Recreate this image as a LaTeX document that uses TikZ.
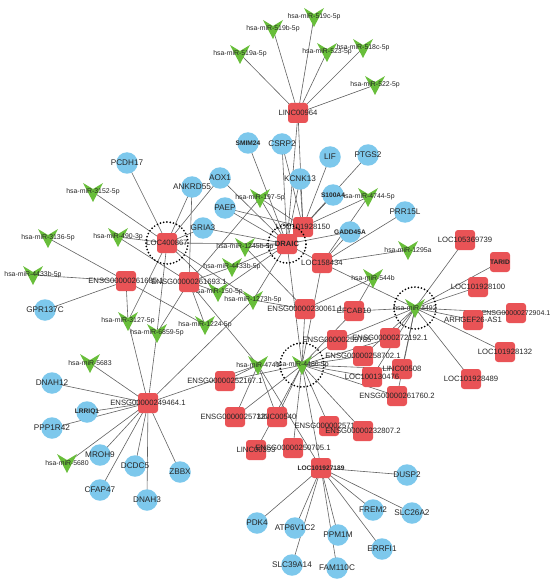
\documentclass[tikz,border=0pt]{standalone}
\usepackage{fontspec}
\setmainfont{Liberation Sans}
\usetikzlibrary{backgrounds}
\definecolor{mrnablue}{RGB}{125,200,236}
\definecolor{lncred}{RGB}{233,83,86}
\definecolor{mirgreen}{RGB}{104,190,58}

\begin{document}
\begin{tikzpicture}[x=1pt, y=-1pt,
  every node/.style={inner sep=0pt, text=black!85,
    execute at begin node={\hbox to 0pt\bgroup\hss},
    execute at end node={\hss\egroup}},
  mrna/.style={circle, fill=mrnablue, minimum size=21.5pt, font=\fontsize{8.2}{9}\selectfont},
  lnc/.style={rectangle, rounded corners=3pt, fill=lncred, minimum size=20pt, font=\fontsize{7.7}{8}\selectfont},
  mir/.style={rectangle, minimum size=20pt, font=\fontsize{6.9}{7}\selectfont,
    path picture={\fill[mirgreen]
      ([shift={(-10pt,9pt)}]path picture bounding box.center) --
      ([shift={(0pt,3pt)}]path picture bounding box.center) --
      ([shift={(10pt,9pt)}]path picture bounding box.center) --
      ([shift={(0pt,-10pt)}]path picture bounding box.center) -- cycle;}},
  tinylabel/.style={font=\fontsize{6.6}{7}\selectfont\bfseries},
  edge/.style={draw=black!62, line width=0.6pt},
  hubring/.style={draw=black, dash pattern=on 0pt off 3.3pt, line cap=round, line width=1.9pt}]

  \useasboundingbox (0,0) rectangle (554,585);

  % ── miRNAs (green V) ─────────────────────────────────────────
  \node[mir] (m519c) at (314,17) {hsa-miR-519c-5p};
  \node[mir] (m519b) at (273,29) {hsa-miR-519b-5p};
  \node[mir] (m519a) at (240,54) {hsa-miR-519a-5p};
  \node[mir] (m523) at (327,52) {hsa-miR-523-5p};
  \node[mir] (m518c) at (363,48) {hsa-miR-518c-5p};
  \node[mir] (m522) at (375,85) {hsa-miR-522-5p};
  \node[mir] (m3152) at (93,192) {hsa-miR-3152-5p};
  \node[mir] (m197) at (260,198) {hsa-miR-197-5p};
  \node[mir] (m4744) at (368,197) {hsa-miR-4744-5p};
  \node[mir] (m3136) at (48,238) {hsa-miR-3136-5p};
  \node[mir] (m490) at (118,237) {hsa-miR-490-3p};
  \node[mir] (m1245) at (245,247) {hsa-miR-1245b-5p};
  \node[mir] (m4433a) at (33,275) {hsa-miR-4433b-5p};
  \node[mir] (m4433b) at (232,267) {hsa-miR-4433b-5p};
  \node[mir] (m1295a) at (408,250) {hsa-miR-1295a};
  \node[mir] (m544b) at (373,278) {hsa-miR-544b};
  \node[mir] (m150) at (218,292) {hsa-miR-150-5p};
  \node[mir] (m1273h) at (253,300) {hsa-miR-1273h-5p};
  \node[mir] (m3127) at (128,321) {hsa-miR-3127-5p};
  \node[mir] (m1224) at (205,325) {hsa-miR-1224-5p};
  \node[mir] (m6859) at (157,333) {hsa-miR-6859-5p};
  \node[mir] (m4492) at (415,308) {hsa-miR-4492};
  \node[mir] (m4741) at (258,365) {hsa-miR-4741};
  \node[mir] (m4486) at (302,365) {hsa-miR-4486-5p};
  \node[mir] (m5683) at (90,363) {hsa-miR-5683};
  \node[mir] (m5680) at (67,463) {hsa-miR-5680};

  % ── mRNAs (blue circles) ─────────────────────────────────────
  \node[mrna] (pcdh17) at (127,163) {PCDH17};
  \node[mrna] (aox1) at (220,178) {AOX1};
  \node[mrna] (ankrd55) at (192,187) {ANKRD55};
  \node[mrna] (paep) at (225,208) {PAEP};
  \node[mrna] (gria3) at (203,228) {GRIA3};
  \node[mrna, tinylabel] (smim24) at (248,143) {SMIM24};
  \node[mrna] (csrp2) at (282,144) {CSRP2};
  \node[mrna] (lif) at (330,157) {LIF};
  \node[mrna] (ptgs2) at (368,155) {PTGS2};
  \node[mrna] (kcnk13) at (300,179) {KCNK13};
  \node[mrna, tinylabel] (s100a4) at (333,195) {S100A4};
  \node[mrna] (prr15l) at (405,212) {PRR15L};
  \node[mrna, tinylabel] (gadd45a) at (350,232) {GADD45A};
  \node[mrna] (gpr137c) at (45,310) {GPR137C};
  \node[mrna] (dnah12) at (52,383) {DNAH12};
  \node[mrna, tinylabel] (lrriq1) at (87,412) {LRRIQ1};
  \node[mrna] (ppp1r42) at (52,428) {PPP1R42};
  \node[mrna] (mroh9) at (100,455) {MROH9};
  \node[mrna] (cfap47) at (100,490) {CFAP47};
  \node[mrna] (dcdc5) at (135,466) {DCDC5};
  \node[mrna] (dnah3) at (147,500) {DNAH3};
  \node[mrna] (zbbx) at (180,472) {ZBBX};
  \node[mrna] (pdk4) at (257,523) {PDK4};
  \node[mrna] (atp6v1c2) at (295,528) {ATP6V1C2};
  \node[mrna] (slc39a14) at (292,565) {SLC39A14};
  \node[mrna] (ppm1m) at (338,535) {PPM1M};
  \node[mrna] (fam110c) at (337,568) {FAM110C};
  \node[mrna] (errfi1) at (382,549) {ERRFI1};
  \node[mrna] (frem2) at (373,510) {FREM2};
  \node[mrna] (slc26a2) at (412,513) {SLC26A2};
  \node[mrna] (dusp2) at (407,475) {DUSP2};

  % ── lncRNAs (red squares) ────────────────────────────────────
  \node[lnc] (linc964) at (298,113) {LINC00964};
  \node[lnc] (loc400867) at (167,243) {LOC400867};
  \node[lnc] (loc150) at (303,227) {LOC101928150};
  \node[lnc, font=\fontsize{7.6}{8}\selectfont\bfseries] (draic) at (287,244) {DRAIC};
  \node[lnc] (loc158434) at (322,263) {LOC158434};
  \node[lnc] (ens685) at (126,281) {ENSG00000261685.1};
  \node[lnc] (ens693) at (189,282) {ENSG00000261693.1};
  \node[lnc] (ens061) at (305,309) {ENSG00000230061.1};
  \node[lnc] (efcab10) at (354,311) {EFCAB10};
  \node[lnc] (loc739) at (465,240) {LOC105369739};
  \node[lnc, tinylabel] (tarid) at (500,262) {TARID};
  \node[lnc] (loc100) at (478,287) {LOC101928100};
  \node[lnc, font=\fontsize{7}{8}\selectfont] (ens904) at (516,313) {ENSG00000272904.1};
  \node[lnc] (arhgef) at (473,320) {ARHGEF26-AS1};
  \node[lnc] (ens785) at (337,340) {ENSG00000259785};
  \node[lnc] (ens192) at (390,338) {ENSG00000272192.1};
  \node[lnc] (loc132) at (505,352) {LOC101928132};
  \node[lnc] (ens702) at (363,356) {ENSG00000258702.1};
  \node[lnc] (linc508) at (402,369) {LINC00508};
  \node[lnc] (loc476) at (372,377) {LOC100130476};
  \node[lnc] (ens760) at (397,396) {ENSG00000261760.2};
  \node[lnc] (loc489) at (471,379) {LOC101928489};
  \node[lnc] (ens167) at (225,381) {ENSG00000252167.1};
  \node[lnc] (ens322) at (235,417) {ENSG00000257322};
  \node[lnc] (linc540) at (277,417) {LINC00540};
  \node[lnc] (ens103) at (329,426) {ENSG00000257103};
  \node[lnc] (ens807) at (363,431) {ENSG00000232807.2};
  \node[lnc] (linc393) at (256,450) {LINC00393};
  \node[lnc] (ens705) at (293,448) {ENSG00000250705.1};
  \node[lnc, tinylabel] (loc189) at (321,468) {LOC101927189};
  \node[lnc] (ens464) at (148,403) {ENSG00000249464.1};

  % ── Dotted rings round the hubs ──────────────────────────────
  \draw[hubring] (loc400867) circle (21pt);
  \draw[hubring] (draic) circle (19pt);
  \draw[hubring] (m4492) circle (21pt);
  \draw[hubring] (m4486) circle (22pt);

  % ── Connectors ───────────────────────────────────────────────
  \begin{scope}[on background layer]
    \foreach \t in {m519c,m519b,m519a,m523,m518c,m522,draic,loc150}
      \draw[edge] (linc964.center) -- (\t.center);
    \foreach \t in {smim24,csrp2,aox1,paep,gria3,kcnk13,gadd45a,m197,m1245,m4433b,m150,loc400867,loc158434,m1273h,s100a4}
      \draw[edge] (draic.center) -- (\t.center);
    \foreach \t in {csrp2,lif,ptgs2,kcnk13,s100a4,m4744,m197,paep}
      \draw[edge] (loc150.center) -- (\t.center);
    \foreach \t in {prr15l,m1295a,m4492,m4744,gadd45a}
      \draw[edge] (loc158434.center) -- (\t.center);
    \foreach \t in {pcdh17,m3152,ankrd55,aox1,gria3,m490,m3127,m6859,m1273h,m150}
      \draw[edge] (loc400867.center) -- (\t.center);
    \foreach \t in {m3136,m4433a,gpr137c,m1224,m3127}
      \draw[edge] (ens685.center) -- (\t.center);
    \foreach \t in {m490,ankrd55,m4433b,m150,m1224,m197,m6859,m4741}
      \draw[edge] (ens693.center) -- (\t.center);
    \foreach \t in {m1273h,m544b,m1245}
      \draw[edge] (ens061.center) -- (\t.center);
    \foreach \t in {loc739,tarid,loc100,ens904,arhgef,loc132,loc489,ens192,ens785,ens702,linc508,loc476,ens760,efcab10}
      \draw[edge] (m4492.center) -- (\t.center);
    \foreach \t in {ens061,efcab10,ens785,ens192,ens702,loc476,linc508,ens760,ens167,ens322,linc540,ens103,ens807,linc393,ens705,loc189,loc158434,draic}
      \draw[edge] (m4486.center) -- (\t.center);
    \foreach \t in {ens167,ens322,linc540,loc189}
      \draw[edge] (m4741.center) -- (\t.center);
    \foreach \t in {pdk4,atp6v1c2,slc39a14,ppm1m,fam110c,errfi1,frem2,slc26a2,dusp2}
      \draw[edge] (loc189.center) -- (\t.center);
    \foreach \t in {m6859,m3127,m5683,dnah12,lrriq1,ppp1r42,mroh9,m5680,cfap47,dcdc5,dnah3,zbbx,m4741,m1273h}
      \draw[edge] (ens464.center) -- (\t.center);
    \draw[edge] (efcab10.center) -- (m544b.center);
  \end{scope}

\end{tikzpicture}
\end{document}
